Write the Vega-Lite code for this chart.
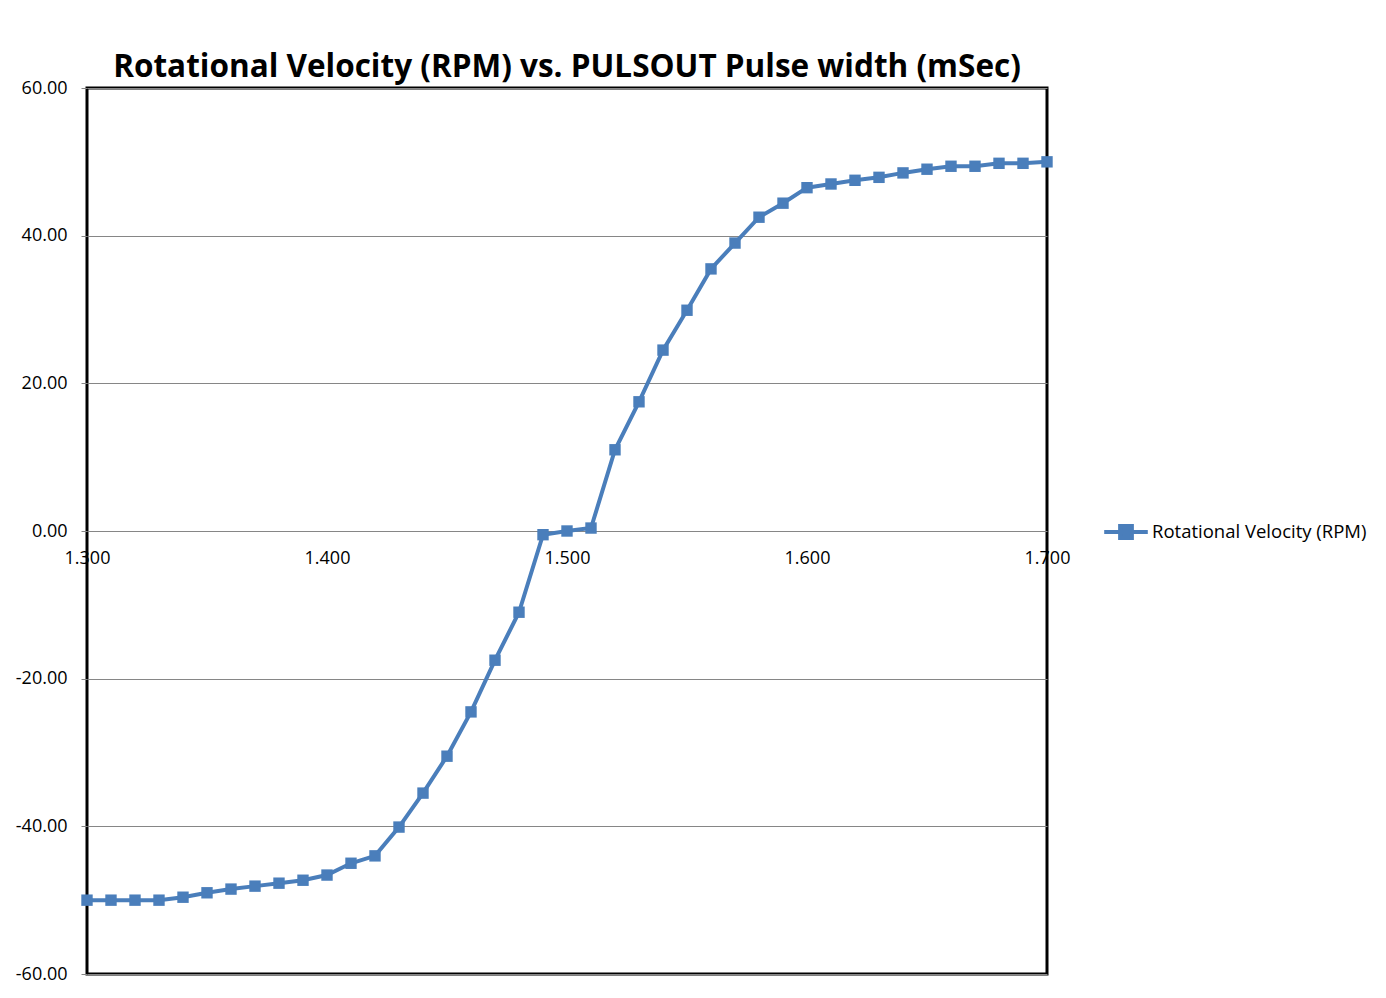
{
  "$schema": "https://vega.github.io/schema/vega-lite/v6.json",
  "width": 960,
  "height": 886,
  "autosize": "none",
  "padding": {"left": 87, "top": 88, "right": 339, "bottom": 24},
  "background": "white",
  "title": {
    "text": "Rotational Velocity (RPM) vs. PULSOUT Pulse width (mSec)",
    "font": "Open Sans",
    "fontSize": 31.5,
    "fontWeight": "bold",
    "color": "black",
    "anchor": "middle",
    "offset": -4
  },
  "data": {
    "values": [
      {"pw": 1.30, "rpm": -50.0, "series": "Rotational Velocity (RPM)"},
      {"pw": 1.31, "rpm": -50.0, "series": "Rotational Velocity (RPM)"},
      {"pw": 1.32, "rpm": -50.0, "series": "Rotational Velocity (RPM)"},
      {"pw": 1.33, "rpm": -50.0, "series": "Rotational Velocity (RPM)"},
      {"pw": 1.34, "rpm": -49.6, "series": "Rotational Velocity (RPM)"},
      {"pw": 1.35, "rpm": -49.0, "series": "Rotational Velocity (RPM)"},
      {"pw": 1.36, "rpm": -48.5, "series": "Rotational Velocity (RPM)"},
      {"pw": 1.37, "rpm": -48.1, "series": "Rotational Velocity (RPM)"},
      {"pw": 1.38, "rpm": -47.7, "series": "Rotational Velocity (RPM)"},
      {"pw": 1.39, "rpm": -47.3, "series": "Rotational Velocity (RPM)"},
      {"pw": 1.40, "rpm": -46.6, "series": "Rotational Velocity (RPM)"},
      {"pw": 1.41, "rpm": -45.0, "series": "Rotational Velocity (RPM)"},
      {"pw": 1.42, "rpm": -44.0, "series": "Rotational Velocity (RPM)"},
      {"pw": 1.43, "rpm": -40.1, "series": "Rotational Velocity (RPM)"},
      {"pw": 1.44, "rpm": -35.5, "series": "Rotational Velocity (RPM)"},
      {"pw": 1.45, "rpm": -30.5, "series": "Rotational Velocity (RPM)"},
      {"pw": 1.46, "rpm": -24.5, "series": "Rotational Velocity (RPM)"},
      {"pw": 1.47, "rpm": -17.5, "series": "Rotational Velocity (RPM)"},
      {"pw": 1.48, "rpm": -11.0, "series": "Rotational Velocity (RPM)"},
      {"pw": 1.49, "rpm": -0.5, "series": "Rotational Velocity (RPM)"},
      {"pw": 1.50, "rpm": 0.0, "series": "Rotational Velocity (RPM)"},
      {"pw": 1.51, "rpm": 0.4, "series": "Rotational Velocity (RPM)"},
      {"pw": 1.52, "rpm": 11.0, "series": "Rotational Velocity (RPM)"},
      {"pw": 1.53, "rpm": 17.5, "series": "Rotational Velocity (RPM)"},
      {"pw": 1.54, "rpm": 24.5, "series": "Rotational Velocity (RPM)"},
      {"pw": 1.55, "rpm": 29.9, "series": "Rotational Velocity (RPM)"},
      {"pw": 1.56, "rpm": 35.5, "series": "Rotational Velocity (RPM)"},
      {"pw": 1.57, "rpm": 39.0, "series": "Rotational Velocity (RPM)"},
      {"pw": 1.58, "rpm": 42.5, "series": "Rotational Velocity (RPM)"},
      {"pw": 1.59, "rpm": 44.4, "series": "Rotational Velocity (RPM)"},
      {"pw": 1.60, "rpm": 46.5, "series": "Rotational Velocity (RPM)"},
      {"pw": 1.61, "rpm": 47.0, "series": "Rotational Velocity (RPM)"},
      {"pw": 1.62, "rpm": 47.5, "series": "Rotational Velocity (RPM)"},
      {"pw": 1.63, "rpm": 47.9, "series": "Rotational Velocity (RPM)"},
      {"pw": 1.64, "rpm": 48.5, "series": "Rotational Velocity (RPM)"},
      {"pw": 1.65, "rpm": 49.0, "series": "Rotational Velocity (RPM)"},
      {"pw": 1.66, "rpm": 49.4, "series": "Rotational Velocity (RPM)"},
      {"pw": 1.67, "rpm": 49.4, "series": "Rotational Velocity (RPM)"},
      {"pw": 1.68, "rpm": 49.8, "series": "Rotational Velocity (RPM)"},
      {"pw": 1.69, "rpm": 49.8, "series": "Rotational Velocity (RPM)"},
      {"pw": 1.70, "rpm": 50.0, "series": "Rotational Velocity (RPM)"}
    ]
  },
  "mark": {
    "type": "line",
    "strokeWidth": 4,
    "clip": false,
    "point": {"shape": "square", "size": 130, "filled": true, "opacity": 1}
  },
  "encoding": {
    "x": {
      "field": "pw",
      "type": "quantitative",
      "scale": {"domain": [1.3, 1.7], "nice": false, "zero": false},
      "axis": {
        "title": null,
        "values": [1.3, 1.4, 1.5, 1.6, 1.7],
        "format": ".3f",
        "grid": false,
        "domain": false,
        "ticks": false,
        "offset": -443,
        "labelFont": "Open Sans",
        "labelFontSize": 18,
        "labelColor": "black",
        "labelPadding": 18,
        "labelFlush": false
      }
    },
    "y": {
      "field": "rpm",
      "type": "quantitative",
      "scale": {"domain": [-60, 60], "nice": false},
      "axis": {
        "title": null,
        "values": [-60, -40, -20, 0, 20, 40, 60],
        "labelExpr": "replace(format(datum.value, '.2f'), '\u2212', '-')",
        "grid": true,
        "gridColor": "#868686",
        "gridWidth": 1,
        "domain": false,
        "ticks": true,
        "tickColor": "#868686",
        "tickSize": 6,
        "labelFont": "Open Sans",
        "labelFontSize": 18,
        "labelColor": "black",
        "labelPadding": 14
      }
    },
    "color": {
      "field": "series",
      "type": "nominal",
      "scale": {"range": ["#4a7ebb"]},
      "legend": {
        "title": null,
        "orient": "none",
        "legendX": 1015,
        "legendY": 420,
        "symbolType": "M -1 0 L 1 0 M -0.27 -0.27 L 0.27 -0.27 L 0.27 0.27 L -0.27 0.27 Z",
        "symbolSize": 1900,
        "symbolStrokeWidth": 4,
        "symbolFillColor": "#4a7ebb",
        "symbolStrokeColor": "#4a7ebb",
        "labelFont": "Open Sans",
        "labelFontSize": 18.5,
        "labelColor": "black",
        "labelOffset": 2,
        "labelLimit": 400
      }
    }
  },
  "config": {
    "view": {"stroke": "black", "strokeWidth": 3}
  }
}
